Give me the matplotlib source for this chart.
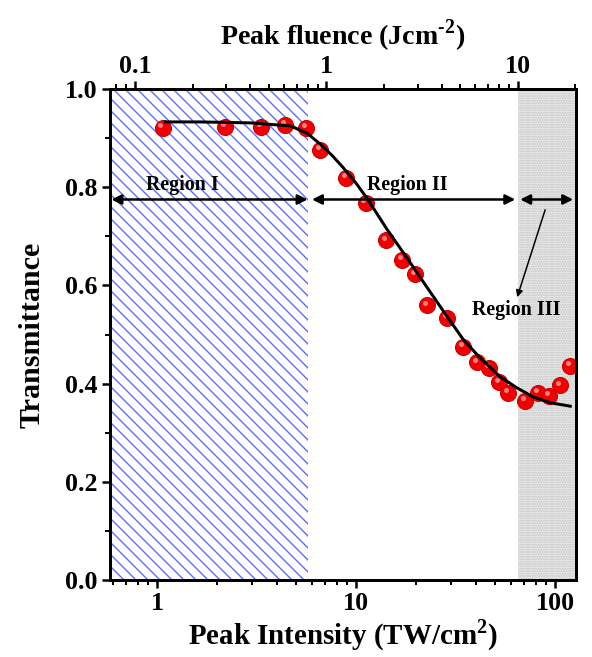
import matplotlib
matplotlib.use("Agg")
import matplotlib.pyplot as plt
import matplotlib.transforms as mtransforms
import numpy as np

plt.rcParams['font.family'] = ['Liberation Serif', 'DejaVu Serif']
plt.rcParams['font.weight'] = 'bold'
plt.rcParams['mathtext.fontset'] = 'custom'
plt.rcParams['mathtext.rm'] = 'Liberation Serif:bold'
plt.rcParams['mathtext.bf'] = 'Liberation Serif:bold'
plt.rcParams['hatch.linewidth'] = 1.4

# measured transmittance
intensity = [1.07, 2.2, 3.33, 4.4, 5.6, 6.6, 8.9, 11.2, 14.2, 17.0, 19.8, 22.7,
             28.6, 34.5, 40.5, 46.6, 52.3, 58.0, 70.7, 82.0, 93.3, 106.0, 119.0]
transmittance = [0.921, 0.923, 0.923, 0.927, 0.921, 0.876, 0.819, 0.768, 0.692, 0.652,
                 0.623, 0.560, 0.534, 0.475, 0.444, 0.432, 0.403, 0.381, 0.365, 0.381,
                 0.375, 0.397, 0.436]

# fit line
fit_x = [1.10, 1.64, 2.93, 4.66, 5.67, 6.59, 7.6, 8.6, 10.0, 11.4, 14.3, 18.0, 22.7,
         28.7, 34.5, 42.0, 52.9, 64.4, 77.5, 94.4, 119.0]
fit_y = [0.933, 0.933, 0.931, 0.925, 0.910, 0.888, 0.864, 0.840, 0.808, 0.776,
         0.714, 0.656, 0.596, 0.536, 0.490, 0.452, 0.414, 0.391, 0.373, 0.361, 0.354]

x_lim = (0.58, 127.0)
fluence_lim = (0.074, 20.1)
region1_end = 5.7
region3_start = 65.0

fig = plt.figure(figsize=(592 / 72, 657 / 72), dpi=72)
ax = fig.add_axes([0.1858, 0.1172, 0.787, 0.7473])

ax.set_xscale('log')
ax.set_xlim(*x_lim)
ax.set_ylim(0, 1.0)

# shaded regions
ax.axvspan(x_lim[0], region1_end, facecolor='none', edgecolor='#5b6ff0',
           hatch='\\\\', linewidth=0, zorder=1)
ax.axvspan(region3_start, x_lim[1], facecolor='#ececec', edgecolor='#c2c2c2',
           hatch='.....', linewidth=0, zorder=1)

# data points as shaded spheres
ax.plot(intensity, transmittance, 'o', ms=16, color='#f00000', mec='#c80000',
        mew=1, zorder=3)
hl = mtransforms.offset_copy(ax.transData, fig=fig, x=-2.5, y=2.5, units='points')
ax.plot(intensity, transmittance, 'o', ms=5, color='#ff8080', mec='none',
        transform=hl, zorder=3)

ax.plot(fit_x, fit_y, color='black', lw=3, zorder=4)

# region arrows
arr = dict(arrowstyle='<|-|>', color='black', lw=2.5, mutation_scale=20,
           shrinkA=0, shrinkB=0)
ax.annotate('', xy=(0.59, 0.775), xytext=(region1_end, 0.775), arrowprops=arr, zorder=5)
ax.annotate('', xy=(6.0, 0.775), xytext=(63.0, 0.775), arrowprops=arr, zorder=5)
ax.annotate('', xy=(66.7, 0.775), xytext=(123.0, 0.775), arrowprops=arr, zorder=5)
ax.annotate('', xy=(64.4, 0.576), xytext=(89.0, 0.754),
            arrowprops=dict(arrowstyle='-|>', color='black', lw=1.5,
                            mutation_scale=14, shrinkA=0, shrinkB=0), zorder=5)

ax.text(1.34, 0.805, 'Region I', fontsize=20, fontweight='bold', ha='center', va='center')
ax.text(18.0, 0.805, 'Region II', fontsize=20, fontweight='bold', ha='center', va='center')
ax.text(64.0, 0.549, 'Region III', fontsize=20, fontweight='bold', ha='center', va='center')

ax.set_yticks([0.0, 0.2, 0.4, 0.6, 0.8, 1.0])
ax.set_yticks(np.arange(0.1, 1.0, 0.2), minor=True)
ax.set_yticklabels(['0.0', '0.2', '0.4', '0.6', '0.8', '1.0'])
ax.set_xticks([1, 10, 100])
ax.set_xticklabels(['1', '10', '100'])

ax.tick_params(axis='both', which='major', direction='out', length=8, width=2.5,
               labelsize=26, pad=4)
ax.tick_params(axis='both', which='minor', direction='out', length=5, width=2)
ax.tick_params(right=False, top=False, which='both')
for s in ax.spines.values():
    s.set_linewidth(3)

ax.set_xlabel(r'Peak Intensity (TW/cm$^{2}$)', fontsize=29, fontweight='bold', labelpad=2)
ax.set_ylabel('Transmittance', fontsize=30, fontweight='bold', labelpad=20)

# top axis: peak fluence
ax2 = ax.twiny()
ax2.set_xscale('log')
ax2.set_xlim(*fluence_lim)
ax2.set_xticks([0.1, 1, 10])
ax2.set_xticklabels(['0.1', '1', '10'])
ax2.tick_params(axis='x', which='major', direction='out', length=8, width=2.5,
                labelsize=26, pad=3)
ax2.tick_params(axis='x', which='minor', direction='out', length=5, width=2)
for s in ax2.spines.values():
    s.set_linewidth(3)
ax2.set_xlabel(r'Peak fluence (Jcm$^{\text{-2}}$)', fontsize=28, fontweight='bold',
               labelpad=10)

fig.savefig('out.png', dpi=72)
